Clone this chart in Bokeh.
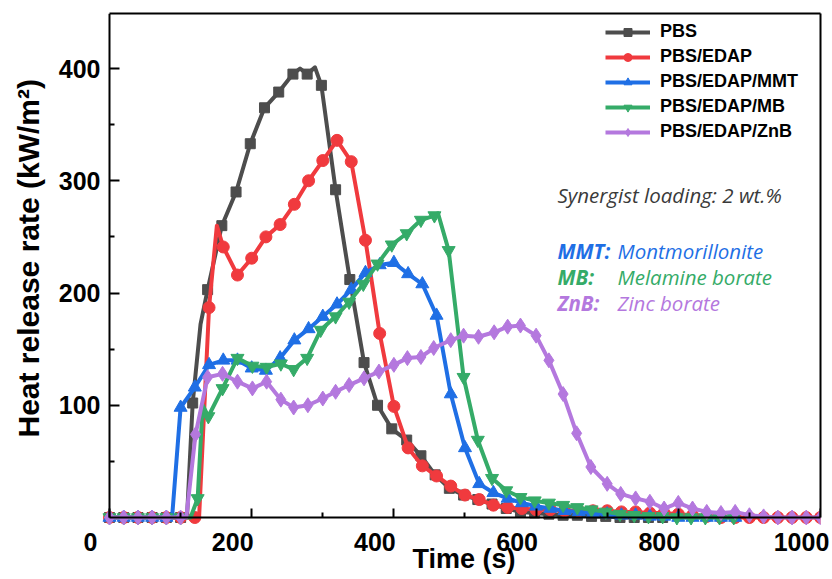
from bokeh.plotting import figure
from bokeh.models import (Range1d, LinearAxis, FixedTicker, Legend, LegendItem, Label, Title)
from bokeh.embed import file_html
from bokeh.resources import INLINE

# ---------------- data ----------------
series_names = ["PBS", "PBS/EDAP", "PBS/EDAP/MMT", "PBS/EDAP/MB", "PBS/EDAP/ZnB"]

pbs_t = [0, 20, 40, 60, 80, 100, 117, 138, 158, 178, 198, 218, 238, 258, 278, 298, 318,
         338, 358, 377, 397, 418, 438, 458, 478, 498, 518, 538, 558, 578, 598, 618, 638,
         658, 678, 698, 718, 738, 758, 778]
pbs_v = [0, 0, 0, 0, 0, 0, 102, 203, 260, 290, 333, 365, 379, 395, 395, 385, 292,
         212, 138, 100, 79, 69, 55, 38, 26, 20, 16, 12, 8, 5, 4, 3, 2,
         2, 1, 1, 0, 0, 0, 0]
pbs_extra_t = [109, 128, 268, 289]
pbs_extra_v = [0, 172, 400, 401]

edap_t = [0, 20, 40, 60, 80, 100, 120, 140, 160, 180, 200, 220, 240, 260, 280, 300, 320,
          340, 360, 380, 400, 420, 440, 460, 480, 500, 520, 540, 560, 580, 600, 620, 640,
          660, 680, 700, 720, 740, 760, 780, 800, 820, 840, 860, 880, 900, 920, 940, 960,
          980, 1000]
edap_v = [0, 0, 0, 0, 0, 0, 0, 187, 241, 216, 231, 250, 261, 279, 300, 318, 336,
          317, 247, 164, 99, 62, 46, 37, 28, 20, 16, 11, 9, 8, 7, 7, 6,
          6, 6, 6, 5, 5, 4, 4, 3, 2, 1, 0, 0, 0, 0, 0, 0,
          0, 0]
edap_extra_t = [126, 151]
edap_extra_v = [0, 260]

mmt_t = [0, 20, 40, 60, 80, 100, 120, 140, 160, 180, 200, 220, 240, 260, 280, 300, 320,
         340, 360, 380, 400, 420, 440, 460, 480, 500, 520, 540, 560, 580, 600, 620, 640,
         660, 680, 700, 720, 740, 760, 780, 800, 820, 840, 860, 880]
mmt_v = [0, 0, 0, 0, 0, 98, 116, 136, 140, 140, 133, 131, 142, 158, 168, 179, 190,
         203, 218, 225, 227, 217, 208, 180, 110, 62, 30, 22, 17, 13, 10, 8, 6,
         5, 4, 3, 2, 2, 1, 1, 0, 0, 0, 0, 0]
mmt_extra_t = [88]
mmt_extra_v = [0]

mb_t = [0, 20, 40, 60, 80, 100, 124, 139, 159, 180, 201, 221, 241, 259, 278, 297, 318,
        337, 357, 377, 397, 418, 438, 457, 477, 498, 518, 538, 558, 578, 598, 618, 638,
        658, 678, 698, 718, 738, 758, 778, 798, 818, 838, 858, 878]
mb_v = [0, 0, 0, 0, 0, 0, 17, 90, 115, 142, 135, 134, 137, 132, 142, 167, 179,
        192, 208, 226, 243, 253, 265, 269, 238, 125, 69, 35, 24, 18, 15, 13, 11,
        9, 7, 5, 3, 2, 1, 1, 0, 0, 0, 0, 0]
mb_extra_t = [114, 131, 462]
mb_extra_v = [0, 100, 271]

znb_t = [0, 20, 40, 60, 80, 100, 121, 138, 159, 180, 201, 221, 241, 259, 279, 300, 318,
         337, 358, 379, 400, 419, 438, 456, 480, 498, 519, 541, 560, 578, 600, 618, 638,
         657, 677, 700, 719, 740, 760, 780, 800, 820, 840, 860, 880, 900, 920, 940, 960,
         980, 1000]
znb_v = [0, 0, 0, 0, 0, 0, 74, 125, 128, 121, 115, 121, 105, 98, 100, 106, 112,
         118, 124, 130, 136, 142, 143, 151, 158, 162, 161, 165, 170, 171, 162, 140, 110,
         75, 45, 30, 21, 17, 14, 8, 13, 8, 5, 4, 5, 2, 1, 0, 0,
         0, 0]
znb_extra_t = [108]
znb_extra_v = [0]

x_major_ticks = [0, 200, 400, 600, 800, 1000]
x_minor_ticks = [100, 300, 500, 700, 900]
x_tick_labels = [0, 200, 400, 600, 800, 1000]
y_major_ticks = [100, 200, 300, 400]
y_minor_ticks = [50, 150, 250, 350]

# ---------------- styles ----------------
colors = ["#4d4d4d", "#f03a3e", "#1f6fe5", "#35ab68", "#b478de"]
markers = ["square", "circle", "triangle", "inverted_triangle", "diamond"]
msizes = [10, 12, 13, 13, 15]
FONT = "Liberation Sans"
NOTE_FONT = "Open Sans"
NOTE_SIZE = "20.5px"
X_END, Y_END = 1000, 449
LEFT_PAD = 26.72   # frame starts ~19 px left of t = 0 (tick labels sit 19 px left of ticks)
BOTTOM_PAD = 8.9   # a little room below y = 0 so baseline markers are not cut


def merged(t, v, et, ev):
    pts = sorted(zip(list(t) + list(et), list(v) + list(ev)))
    return [a for a, _ in pts], [b for _, b in pts]


def bare_ticker():
    return FixedTicker(ticks=[], minor_ticks=[])


p = figure(width=830, height=579,
           x_range=Range1d(-LEFT_PAD, X_END), y_range=Range1d(-BOTTOM_PAD, Y_END),
           x_axis_location=None, y_axis_location=None,
           output_backend="svg", toolbar_location=None,
           min_border_left=90, min_border_right=10, min_border_top=13, min_border_bottom=52)
p.grid.visible = False
p.outline_line_color = None
p.background_fill_color = "white"
p.border_fill_color = "white"

# ---- bottom: axis line + ticks at y = 0 (inside the frame)
xmaj = LinearAxis(ticker=FixedTicker(ticks=[], minor_ticks=x_major_ticks), fixed_location=0,
                  bounds=(0, X_END), axis_line_width=2, axis_line_color="black",
                  minor_tick_in=9, minor_tick_out=0, minor_tick_line_width=2,
                  minor_tick_line_color="black")
p.add_layout(xmaj, "below")
xmin = LinearAxis(ticker=FixedTicker(ticks=[], minor_ticks=x_minor_ticks), fixed_location=0,
                  bounds=(0, X_END), axis_line_color=None, minor_tick_in=5, minor_tick_out=0,
                  minor_tick_line_width=2, minor_tick_line_color="black")
p.add_layout(xmin, "below")

# tick labels (shifted left of their ticks as in the reference)
p.extra_x_ranges = {"lab": Range1d(0, X_END + LEFT_PAD)}
xlab = LinearAxis(x_range_name="lab", ticker=FixedTicker(ticks=x_tick_labels, minor_ticks=[]),
                  axis_line_color=None, major_tick_line_color=None, minor_tick_line_color=None,
                  major_tick_in=0, major_tick_out=0, minor_tick_in=0, minor_tick_out=0,
                  major_label_standoff=5, major_label_text_font=FONT,
                  major_label_text_font_style="bold", major_label_text_font_size="25px",
                  major_label_text_color="black")
p.add_layout(xlab, "below")

# x title
p.add_layout(Title(text="Time (s)", align="left", offset=322, vertical_align="top",
                   standoff=-19, text_font=FONT, text_font_style="bold",
                   text_font_size="27px", text_color="black"), "below")

# ---- left: axis line + ticks at x = 0
yline = LinearAxis(ticker=FixedTicker(ticks=[], minor_ticks=[]),
                   fixed_location=0, bounds=(0, Y_END), axis_line_width=2,
                   axis_line_color="black")
p.add_layout(yline, "left")
ymaj = LinearAxis(ticker=FixedTicker(ticks=[], minor_ticks=y_major_ticks), fixed_location=0,
                  bounds=(0, Y_END), axis_line_color=None, minor_tick_in=10, minor_tick_out=0,
                  minor_tick_line_width=2, minor_tick_line_color="black")
p.add_layout(ymaj, "left")
ymin = LinearAxis(ticker=FixedTicker(ticks=[], minor_ticks=y_minor_ticks), fixed_location=0,
                  bounds=(0, Y_END), axis_line_color=None, minor_tick_in=5, minor_tick_out=0,
                  minor_tick_line_width=2, minor_tick_line_color="black")
p.add_layout(ymin, "left")

# y tick labels
ylab = LinearAxis(ticker=FixedTicker(ticks=y_major_ticks, minor_ticks=[]),
                  axis_line_color=None, major_tick_line_color=None, minor_tick_line_color=None,
                  major_tick_in=0, major_tick_out=0, minor_tick_in=0, minor_tick_out=0,
                  major_label_standoff=-10, major_label_text_font=FONT,
                  major_label_text_font_style="bold", major_label_text_font_size="25px",
                  major_label_text_color="black")
p.add_layout(ylab, "left")

# y title
p.add_layout(Title(text="Heat release rate (kW/m²)", align="left", offset=90,
                   vertical_align="top", standoff=18, text_font=FONT,
                   text_font_style="bold", text_font_size="30px", text_color="black"), "left")

# top and right border lines
top = LinearAxis(ticker=bare_ticker(), bounds=(0, X_END), axis_line_width=2,
                 axis_line_color="black")
p.add_layout(top, "above")
right = LinearAxis(ticker=bare_ticker(), bounds=(0, Y_END), axis_line_width=2,
                   axis_line_color="black")
p.add_layout(right, "right")

all_series = [
    (pbs_t, pbs_v, pbs_extra_t, pbs_extra_v),
    (edap_t, edap_v, edap_extra_t, edap_extra_v),
    (mmt_t, mmt_v, mmt_extra_t, mmt_extra_v),
    (mb_t, mb_v, mb_extra_t, mb_extra_v),
    (znb_t, znb_v, znb_extra_t, znb_extra_v),
]

items = []
for i, (t, v, et, ev) in enumerate(all_series):
    lt, lv = merged(t, v, et, ev)
    lr = p.line(lt, lv, line_width=4, line_color=colors[i], line_join="round")
    sr = p.scatter(t, v, marker=markers[i], size=msizes[i], fill_color=colors[i],
                   line_color=colors[i], line_width=1)
    items.append(LegendItem(label=series_names[i], renderers=[lr, sr]))

legend = Legend(items=items, location=(515, 385), glyph_width=45, glyph_height=20,
                label_height=20, label_standoff=10, spacing=4, padding=5,
                label_text_font=FONT, label_text_font_style="bold",
                label_text_font_size="18px", label_text_color="black",
                border_line_color=None, background_fill_alpha=0)
p.add_layout(legend)

# notes
note_x = 630
desc_x = 714.5
p.add_layout(Label(x=note_x, y=287, text="Synergist loading: 2 wt.%", text_font=NOTE_FONT,
                   text_font_style="italic", text_font_size=NOTE_SIZE, text_color="#3a3a3a",
                   text_baseline="middle"))
notes = [("MMT:", "Montmorillonite", colors[2], 237),
         ("MB:", "Melamine borate", colors[3], 214),
         ("ZnB:", "Zinc borate", colors[4], 191)]
for abbr, desc, col, yy in notes:
    p.add_layout(Label(x=note_x, y=yy, text=abbr, text_font=NOTE_FONT,
                       text_font_style="bold italic", text_font_size=NOTE_SIZE,
                       text_color=col, text_baseline="middle"))
    p.add_layout(Label(x=desc_x, y=yy, text=desc, text_font=NOTE_FONT,
                       text_font_style="italic", text_font_size=NOTE_SIZE,
                       text_color=col, text_baseline="middle"))

open("out.html", "w").write(file_html(p, INLINE))
